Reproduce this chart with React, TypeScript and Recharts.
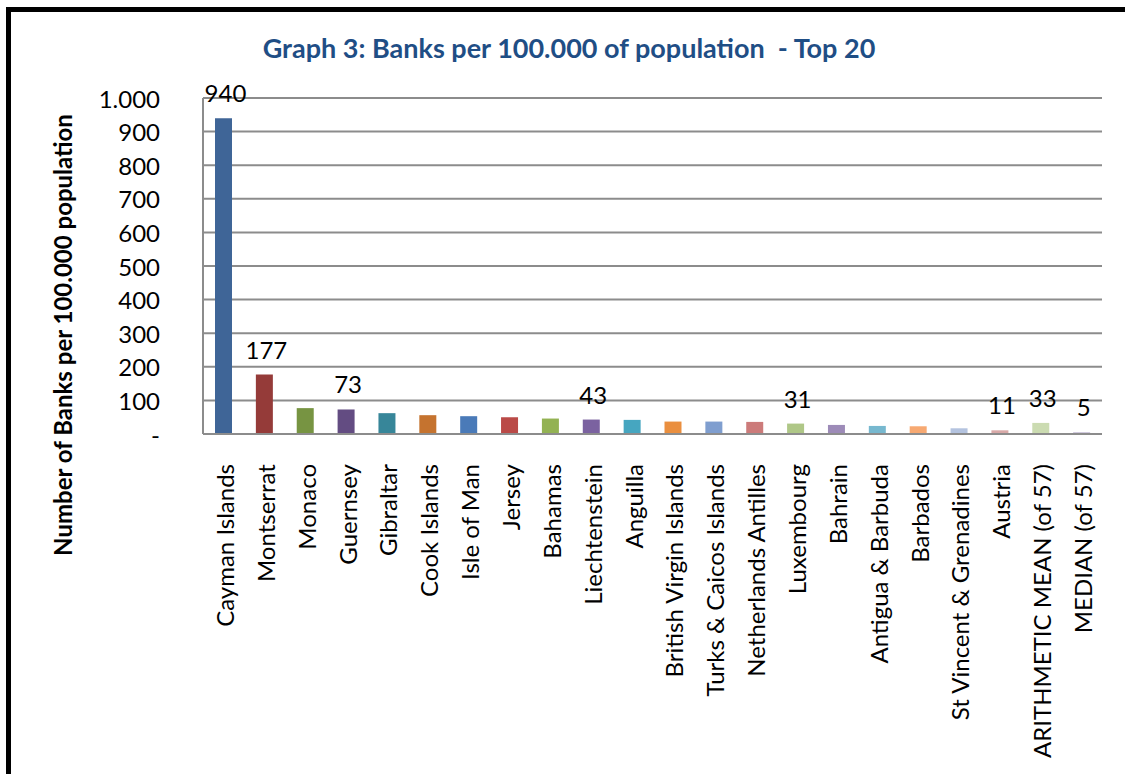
import React from 'react';
import { BarChart, Bar, XAxis, YAxis, CartesianGrid, Cell, LabelList } from 'recharts';

const categories = [
  'Cayman Islands', 'Montserrat', 'Monaco', 'Guernsey', 'Gibraltar', 'Cook Islands',
  'Isle of Man', 'Jersey', 'Bahamas', 'Liechtenstein', 'Anguilla', 'British Virgin Islands',
  'Turks & Caicos Islands', 'Netherlands Antilles', 'Luxembourg', 'Bahrain', 'Antigua & Barbuda',
  'Barbados', 'St Vincent & Grenadines', 'Austria', 'ARITHMETIC MEAN (of 57)', 'MEDIAN (of 57)',
];
const values = [940, 177, 77, 73, 62, 56, 53, 50, 46, 43, 42, 37, 37, 36, 31, 27, 24, 23, 17, 11, 33, 5];
const shownLabels = [940, 177, null, 73, null, null, null, null, null, 43, null, null, null, null, 31, null, null, null, null, 11, 33, 5];
const colors = [
  '#3F6597', '#953B39', '#779442', '#634C82', '#378699', '#C5732F', '#4A7AB8', '#BA4A47',
  '#93B253', '#7B62A0', '#46A6C0', '#EA8F3F', '#7F9ECF', '#CC7B7A', '#AFC787', '#9D8BB8',
  '#77B8CF', '#F7A972', '#B4C3DF', '#D8A9A8', '#CBDBB1', '#BCB1CE',
];
const yTicks = [0, 100, 200, 300, 400, 500, 600, 700, 800, 900, 1000];
const title = 'Graph 3: Banks per 100.000 of population  - Top 20';
const yTitle = 'Number of Banks per 100.000 population';

const data = categories.map((name, i) => ({ name, value: values[i], label: shownLabels[i] }));

const FONT = 'Lato, "Open Sans", sans-serif';

const fmtY = (v: number) => (v === 0 ? '-' : v >= 1000 ? '1.000' : String(v));

const XTick = (props: any) => {
  const { x, y, payload } = props;
  const ty = y + 28;
  return (
    <text
      x={x + 1}
      y={ty}
      transform={`rotate(-90, ${x + 1}, ${ty})`}
      textAnchor="end"
      dominantBaseline="central"
      fontFamily={FONT}
      fontSize={24}
      fill="#000"
    >
      {payload.value}
    </text>
  );
};

const YTick = (props: any) => {
  const { x, y, payload } = props;
  return (
    <text x={x} y={y} textAnchor="end" dominantBaseline="central" fontFamily={FONT} fontSize={24} fill="#000">
      {fmtY(payload.value)}
    </text>
  );
};

const TopLabel = (props: any) => {
  const { x, y, width, value } = props;
  if (value === null || value === undefined) return null;
  return (
    <text x={x + width / 2 + 2} y={y - 16} textAnchor="middle" fontFamily={FONT} fontSize={24} fill="#000">
      {value}
    </text>
  );
};

export default function App() {
  return (
    <div style={{ position: 'absolute', left: 0, top: 0, width: 1125, height: 774, overflow: 'hidden', background: '#fff' }}>
      <div
        style={{
          position: 'absolute', left: 6, top: 7, width: 1300, height: 1000,
          borderLeft: '5px solid #000', borderTop: '5px solid #000', boxSizing: 'border-box',
        }}
      />
      <div style={{ position: 'absolute', left: 0, top: 0 }}>
        <BarChart
          width={1125}
          height={774}
          data={data}
          margin={{ top: 98, right: 23, left: 103, bottom: 40 }}
          barSize={17}
        >
          <CartesianGrid vertical={false} stroke="#8c8c8c" strokeWidth={2} />
          <XAxis
            dataKey="name"
            interval={0}
            height={300}
            tickLine={false}
            tickSize={0}
            axisLine={{ stroke: '#8c8c8c', strokeWidth: 2 }}
            tick={<XTick />}
          />
          <YAxis
            width={100}
            domain={[0, 1000]}
            ticks={yTicks}
            interval={0}
            tickLine={false}
            tickSize={0}
            tickMargin={43}
            axisLine={{ stroke: '#8c8c8c', strokeWidth: 2 }}
            tick={<YTick />}
          />
          <Bar dataKey="value" isAnimationActive={false}>
            {data.map((d, i) => (
              <Cell key={d.name} fill={colors[i]} />
            ))}
            <LabelList dataKey="label" content={<TopLabel />} />
          </Bar>
        </BarChart>
      </div>
      <svg width={1125} height={774} style={{ position: 'absolute', left: 0, top: 0, pointerEvents: 'none' }}>
        <text
          x={569}
          y={58}
          textAnchor="middle"
          fontFamily={FONT}
          fontWeight="bold"
          fontSize={27}
          fill="#1F4E85"
          style={{ whiteSpace: 'pre' }}
          xmlSpace="preserve"
        >
          {title}
        </text>
        <text
          x={62}
          y={335}
          transform="rotate(-90, 62, 335)"
          textAnchor="middle"
          dominantBaseline="central"
          fontFamily={FONT}
          fontWeight="bold"
          fontSize={24}
          fill="#000"
        >
          {yTitle}
        </text>
      </svg>
    </div>
  );
}
